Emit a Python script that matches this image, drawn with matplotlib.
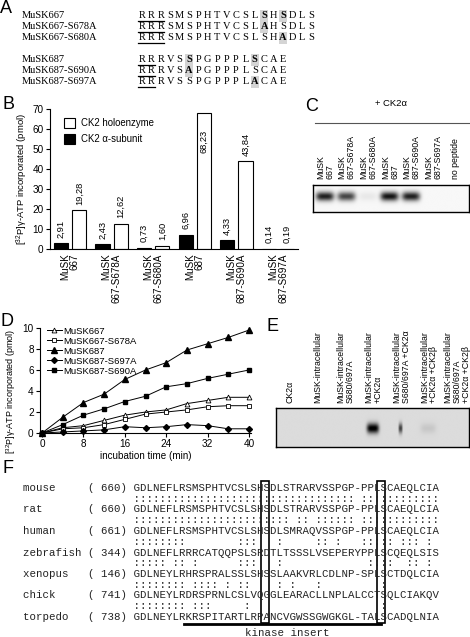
import matplotlib.pyplot as plt
import numpy as np
from matplotlib.patches import Rectangle

W, H = 470, 637
plt.rcParams['font.family'] = ['Liberation Sans', 'DejaVu Sans']
plt.rcParams['mathtext.fontset'] = 'custom'
plt.rcParams['mathtext.rm'] = 'Liberation Sans'
plt.rcParams['font.size'] = 7

# ---- panel A: peptides
peptide_names = ['MuSK667', 'MuSK667-S678A', 'MuSK667-S680A',
                 'MuSK687', 'MuSK687-S690A', 'MuSK687-S697A']
peptide_seqs = ['RRRSMSPHTVCSLSHSDLS', 'RRRSMSPHTVCSLAHSDLS', 'RRRSMSPHTVCSLSHADLS',
                'RRRVSSPGPPPLSCAE', 'RRRVSAPGPPPLSCAE', 'RRRVSSPGPPPLACAE']
highlight_pos = [[13, 15], [13], [15], [5, 12], [5], [12]]
underline_len = [3, 3, 3, 2, 2, 2]

# ---- panel B: in vitro phosphorylation of peptides
bar_groups = ['MuSK\n667', 'MuSK\n667-S678A', 'MuSK\n667-S680A',
              'MuSK\n687', 'MuSK\n687-S690A', 'MuSK\n687-S697A']
alpha_vals = [2.91, 2.43, 0.73, 6.96, 4.33, 0.14]
holo_vals = [19.28, 12.62, 1.60, 68.23, 43.84, 0.19]

# ---- panel C: autoradiograph
blotC_lanes = ['MuSK\n667', 'MuSK\n667-S678A', 'MuSK\n667-S680A', 'MuSK\n687',
               'MuSK\n687-S690A', 'MuSK\n687-S697A', 'no peptide']
blotC_signal = [0.85, 0.7, 0.06, 0.9, 0.85, 0.0, 0.0]

# ---- panel D: time course
time_min = [0, 4, 8, 12, 16, 20, 24, 28, 32, 36, 40]
d_667 = [0, 0.5, 0.7, 1.2, 1.7, 2.0, 2.2, 2.8, 3.1, 3.4, 3.4]
d_667_s678a = [0, 0.4, 0.5, 0.8, 1.3, 1.8, 2.0, 2.2, 2.5, 2.6, 2.6]
d_687 = [0, 1.5, 2.9, 3.7, 5.1, 6.0, 6.7, 7.9, 8.5, 9.1, 9.8]
d_687_s697a = [0, 0.1, 0.2, 0.3, 0.6, 0.5, 0.6, 0.8, 0.7, 0.4, 0.4]
d_687_s690a = [0, 0.8, 1.7, 2.3, 3.0, 3.5, 4.4, 4.7, 5.2, 5.6, 6.0]

# ---- panel E: intracellular domain autoradiograph
blotE_lanes = ['CK2α', 'MuSK-intracellular', 'MuSK-intracellular\nS680/697A',
               'MuSK-intracellular\n+CK2α', 'MuSK-intracellular\nS680/697A +CK2α',
               'MuSK-intracellular\n+CK2α +CK2β',
               'MuSK-intracellular\nS680/697A\n+CK2α +CK2β']
blotE_signal = [0.0, 0.0, 0.0, 0.9, 0.6, 0.08, 0.0]
blotE_width = [0.2, 0.2, 0.2, 0.22, 0.07, 0.28, 0.2]

# ---- panel F: alignment
species = ['mouse', 'rat', 'human', 'zebrafish', 'xenopus', 'chick', 'torpedo']
start_res = [660, 660, 661, 344, 146, 741, 738]
align_seqs = ['GDLNEFLRSMSPHTVCSLSHSDLSTRARVSSPGP-PPLSCAEQLCIA',
              'GDLNEFLRSMSPHTVCSLSHSDLSTRARVSSPGP-PPLSCAEQLCIA',
              'GDLNEFLRSMSPHTVCSLSHSDLSMRAQVSSPGP-PPLSCAEQLCIA',
              'GDLNEFLRRRCATQQPSLSRDTLTSSSLVSEPERYPPLSCQEQLSIS',
              'GDLNEYLRHRSPRALSSLSHSSLAAKVRLCDLNP-SPLSCTDQLCIA',
              'GDLNEYLRDRSPRNLCSLVQGGLEARACLLNPLALCCTSQLCIAKQV',
              'GDLNEYLRKRSPITARTLRPANCVGWSSGWGKGL-TALSCADQLNIA']
boxed_cols = [20, 38]
insert_span = [8, 38.5]


def px(x0, y0, x1, y1):
    return [x0 / W, 1 - y1 / H, (x1 - x0) / W, (y1 - y0) / H]


def blot(ax, signal, widths, yc, hh, bg, xlim):
    xs = np.linspace(xlim[0], xlim[1], 500)
    ys = np.linspace(0, 1, 100)
    X, Y = np.meshgrid(xs, ys)
    img = np.full_like(X, bg)
    for i, s in enumerate(signal):
        img -= s * np.exp(-((X - i) / widths[i]) ** 4 - ((Y - yc) / hh) ** 2)
    ax.imshow(img, cmap='gray', vmin=0, vmax=1, aspect='auto',
              extent=[xlim[0], xlim[1], 1, 0], interpolation='bilinear')
    ax.set_xlim(xlim)
    ax.set_ylim(1, 0)
    ax.set_xticks([])
    ax.set_yticks([])
    for s in ax.spines.values():
        s.set_linewidth(1.0)


fig = plt.figure(figsize=(W / 100, H / 100), dpi=100)

# ---------------- B
axB = fig.add_axes(px(50, 109, 298, 249))
x = np.arange(len(bar_groups))
axB.bar(x + 0.22, holo_vals, 0.34, color='white', edgecolor='black', lw=0.8,
        label='CK2 holoenzyme')
axB.bar(x - 0.22, alpha_vals, 0.34, color='black', edgecolor='black', lw=0.8,
        label='CK2 α-subunit')
for xi, a, h in zip(x, alpha_vals, holo_vals):
    for xx, v in ((xi - 0.22, a), (xi + 0.22, h)):
        y = v + 2.8 if v < 60 else 48
        axB.text(xx, y, f'{v:.2f}'.replace('.', ','), rotation=90,
                 ha='center', va='bottom', fontsize=6.7)
axB.set_xlim(-0.48, 5.48)
axB.set_ylim(0, 70)
axB.set_yticks(range(0, 71, 10))
axB.set_xticks(x)
axB.set_xticklabels(bar_groups, rotation=90, va='top', ha='center',
                    multialignment='right', fontsize=7.1, linespacing=1.0)
axB.tick_params(axis='x', length=0, pad=3)
axB.tick_params(axis='y', length=3, width=0.8, pad=1.5, labelsize=7.2)
axB.spines[['top', 'right']].set_visible(False)
axB.spines[['left', 'bottom']].set_linewidth(0.8)
axB.set_ylabel(r'[$^{32}$P]γ-ATP incorporated (pmol)', fontsize=6.8, labelpad=2)
axB.legend(loc='upper left', bbox_to_anchor=(59 / W, 1 - 113 / H),
           bbox_transform=fig.transFigure, frameon=False, fontsize=6.9,
           handlelength=1.2, handleheight=1.3, labelspacing=0.6, borderpad=0,
           handletextpad=0.6)

# ---------------- C
xlimC = (-0.55, 6.69)
axC = fig.add_axes(px(313, 185, 469, 212))
blot(axC, blotC_signal, [0.42] * 7, 0.42, 0.17, 0.97, xlimC)

# ---------------- D
axD = fig.add_axes(px(40, 328, 251, 433))
axD.plot(time_min, d_667, '-^', color='black', mfc='white', ms=3.5, lw=0.7,
         mew=0.6, clip_on=False, label='MuSK667')
axD.plot(time_min, d_667_s678a, '-s', color='black', mfc='white', ms=3.2, lw=0.7,
         mew=0.6, clip_on=False, label='MuSK667-S678A')
axD.plot(time_min, d_687, '-^', color='black', ms=3.8, lw=0.7,
         clip_on=False, label='MuSK687')
axD.plot(time_min, d_687_s697a, '-D', color='black', ms=3.0, lw=0.7,
         clip_on=False, label='MuSK687-S697A')
axD.plot(time_min, d_687_s690a, '-s', color='black', ms=3.5, lw=0.7,
         clip_on=False, label='MuSK687-S690A')
axD.set_xlim(-0.4, 40.4)
axD.set_ylim(0, 10)
axD.set_xticks(range(0, 41, 8))
axD.set_yticks(range(0, 11, 2))
axD.tick_params(length=3, width=0.8, pad=1.5, labelsize=7.2)
axD.spines[['top', 'right']].set_visible(False)
axD.spines[['left', 'bottom']].set_linewidth(0.8)
axD.set_xlabel('incubation time (min)', fontsize=7.1, labelpad=1)
axD.set_ylabel(r'[$^{32}$P]γ-ATP incorporated (pmol)', fontsize=6.5, labelpad=3)
axD.yaxis.set_label_coords(-0.105, 0.4)
axD.legend(loc='upper left', bbox_to_anchor=(42 / W, 1 - 322 / H),
           bbox_transform=fig.transFigure, frameon=False, fontsize=6.8,
           handlelength=1.6, labelspacing=0.1, borderpad=0, handletextpad=0.2)

# ---------------- E
xlimE = (-0.5, 6.47)
axE = fig.add_axes(px(276, 408, 469, 447))
blot(axE, blotE_signal, blotE_width, 0.52, 0.13, 0.86, xlimE)

# ---------------- overlay for text panels
ov = fig.add_axes([0, 0, 1, 1], zorder=5)
ov.set_xlim(0, W)
ov.set_ylim(H, 0)
ov.axis('off')
ov.patch.set_alpha(0)

for lab, (lx, ly) in zip('ABCDEF', [(0, 0), (2, 96), (305, 98), (0, 313),
                                     (266, 318), (2, 460)]):
    ov.text(lx, ly, lab, fontsize=13, ha='left', va='top')

# A
row_y = [15.5, 26.5, 37.5, 59.5, 70.5, 81.5]
for name, seq, hl, ul, y in zip(peptide_names, peptide_seqs, highlight_pos,
                                 underline_len, row_y):
    ov.text(22, y, name, family='Liberation Serif', fontsize=7.5, va='center')
    for i, ch in enumerate(seq):
        cx = 142 + i * 9.4
        bold = i in hl
        if bold:
            ov.add_patch(Rectangle((cx - 4, y - 6), 8, 12, color='#d4d4d4', lw=0))
        ov.text(cx, y, ch, family='Liberation Serif', fontsize=7.5, ha='center',
                va='center', fontweight='bold' if bold else 'normal')
    ov.plot([137.5, 137.5 + ul * 9.4 - 1.5], [y + 5.5, y + 5.5], color='black', lw=0.9)

# C labels
ov.text(375, 103, '+ CK2α', fontsize=6.8, va='center')
ov.plot([315, 470], [122.5, 122.5], color='#555555', lw=0.8)
c_lane_px = np.linspace(325, 455, len(blotC_lanes))
for cx, lab in zip(c_lane_px, blotC_lanes):
    ov.text(cx, 179, lab, rotation=90, ha='center', va='bottom',
            multialignment='left', fontsize=6.3, linespacing=1.05)

# E labels
e_lane_px = np.linspace(290, 457, len(blotE_lanes))
for cx, lab in zip(e_lane_px, blotE_lanes):
    ov.text(cx, 403, lab, rotation=90, ha='center', va='bottom',
            multialignment='left', fontsize=6.3, linespacing=1.05)

# F
cw = 6.45
fy = [488 + 21.5 * i for i in range(len(species))]
mono = dict(family='Liberation Mono', fontsize=7.75, color='#222222')
for k, (sp, st, seq, y) in enumerate(zip(species, start_res, align_seqs, fy)):
    ov.text(23, y, f'{sp:<10}({st:>4}) {seq}', va='center', **mono)
    if k + 1 < len(species):
        nxt = align_seqs[k + 1]
        marks = ''.join(':' if a == b and a != '-' else ' ' for a, b in zip(seq, nxt))
        ov.text(23, y + 10.75, ' ' * 17 + marks, va='center', **mono)
for c in boxed_cols:
    xl = 23 + (17 + c) * cw
    ov.add_patch(Rectangle((xl - 0.5, fy[0] - 7), cw + 1, fy[-1] - fy[0] + 13,
                           fill=False, edgecolor='black', lw=1.2))
ov.plot([23 + (17 + insert_span[0]) * cw, 23 + (17 + insert_span[1]) * cw],
        [623.5, 623.5], color='black', lw=2)
ov.text(287, 633, 'kinase insert', ha='center', va='center', **mono)

fig.savefig('out.png', dpi=100)
